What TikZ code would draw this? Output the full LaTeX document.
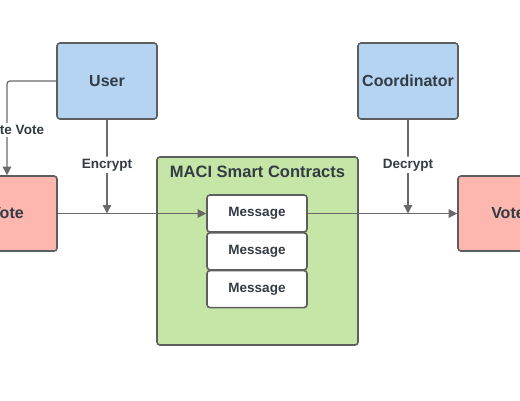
\documentclass[tikz,border=0pt]{standalone}
\usepackage{fontspec}
\setmainfont{Liberation Sans}
\usetikzlibrary{positioning,arrows.meta}
\definecolor{userblue}{HTML}{B4D4F1}
\definecolor{votepink}{HTML}{FDB7AF}
\definecolor{maciGreen}{HTML}{C6E6A7}
\definecolor{edgegray}{HTML}{5E5E5E}
\definecolor{linegray}{HTML}{6A6A6A}
\definecolor{textdark}{HTML}{333B44}
\tikzset{
  box/.style={draw=edgegray, line width=1.6pt, rounded corners=3pt,
    text=textdark, font=\bfseries\fontsize{16}{18}\selectfont},
  actorbox/.style={box, fill=userblue, minimum width=100pt, minimum height=76pt},
  votebox/.style={box, fill=votepink, minimum width=100pt, minimum height=75pt},
  msgbox/.style={box, fill=white, minimum width=100pt, minimum height=37pt,
    font=\bfseries\fontsize{13.5}{15}\selectfont},
  flow/.style={draw=linegray, line width=1.3pt, rounded corners=3pt,
    -{Triangle[width=8.5pt,length=8.5pt]}},
  lbl/.style={fill=white, text=textdark, inner sep=2pt,
    font=\bfseries\fontsize{13.5}{15}\selectfont}
}
\begin{document}
\begin{tikzpicture}[x=1pt, y=-1pt]
\useasboundingbox (0,0) rectangle (520,400);
\clip (0,0) rectangle (520,400);
% actors
\node[actorbox] (user) at (107,81) {User};
\node[actorbox] (coord) at (408,81) {Coordinator};
\node[votebox] (voteIn) at (7,213.5) {Vote};
\node[votebox] (voteOut) at (508,213.5) {Vote};
% contracts
\node[box, fill=maciGreen, minimum width=201pt, minimum height=188pt] (maci) at (257.5,251) {};
\node[text=textdark, font=\bfseries\fontsize{16.5}{18}\selectfont,
  below=6pt of maci.north, anchor=north] (maciTitle) {MACI Smart Contracts};
\node[msgbox] (msg1) at (257,213.5) {Message};
\node[msgbox, below=-0.8pt of msg1] (msg2) {Message};
\node[msgbox, below=-0.8pt of msg2] (msg3) {Message};
% flows
\draw[flow] (voteIn.east) -- (msg1.west);
\draw[flow] (msg1.east) -- (voteOut.west);
\draw[flow] (user.south) -- (user.south |- voteIn.east) node[lbl, pos=0.48] {Encrypt};
\draw[flow] (coord.south) -- (coord.south |- voteOut.west) node[lbl, pos=0.48] {Decrypt};
\draw[flow] (user.west) -| (voteIn.north) node[lbl, pos=0.76] {Create Vote};
\end{tikzpicture}
\end{document}
